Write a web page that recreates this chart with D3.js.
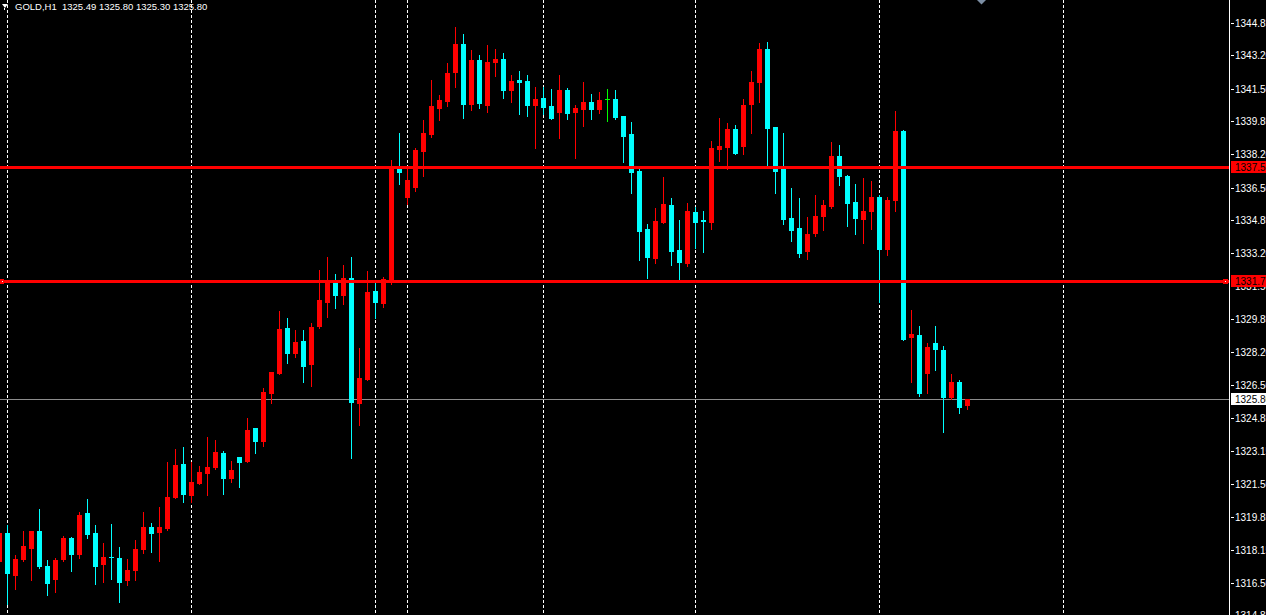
<!DOCTYPE html>
<html>
<head>
<meta charset="utf-8">
<script src="https://cdn.jsdelivr.net/npm/d3@7"></script>
<style>
html,body{margin:0;padding:0;background:#000;overflow:hidden;}
svg{display:block;}
</style>
</head>
<body>
<svg id="chart" width="1266" height="615"></svg>
<script>
// ---- DATA ----
const symbolTitle = "GOLD,H1";
const lastBar = ["1325.49", "1325.80", "1325.30", "1325.80"];
const firstBarIndex = -1;
const opens = [1317.61,1319.01,1316.90,1317.70,1318.25,1319.11,1317.34,1316.70,1317.71,1318.76,1317.96,1320.02,1319.01,1317.46,1317.81,1317.75,1316.65,1317.15,1318.22,1319.32,1319.08,1319.28,1320.82,1322.51,1320.95,1321.56,1322.07,1322.37,1323.06,1321.81,1322.86,1322.67,1324.33,1323.69,1326.12,1327.13,1329.39,1328.14,1328.73,1327.58,1329.51,1330.72,1331.67,1331.08,1331.92,1325.61,1326.82,1331.26,1330.67,1331.87,1337.49,1336.04,1336.55,1338.37,1339.23,1340.55,1340.90,1342.37,1343.77,1340.75,1342.96,1340.68,1342.86,1343.01,1341.44,1341.95,1341.90,1340.68,1341.04,1340.63,1340.33,1341.44,1340.33,1340.48,1340.84,1340.48,1340.97,1340.99,1340.13,1339.22,1337.34,1334.40,1332.94,1334.76,1335.62,1333.34,1332.68,1335.26,1334.86,1334.76,1338.46,1338.56,1339.47,1338.61,1340.73,1341.85,1343.52,1339.57,1337.44,1334.96,1334.46,1333.29,1334.20,1335.06,1335.57,1338.10,1337.09,1335.77,1334.91,1335.32,1336.03,1333.39,1335.87,1339.37,1328.94,1329.04,1327.11,1328.63,1328.28,1325.90,1326.66,1325.49];
const highs = [1319.10,1319.42,1317.90,1319.11,1319.13,1320.23,1317.65,1317.75,1318.86,1318.82,1320.08,1320.73,1319.42,1318.51,1319.47,1318.30,1317.70,1318.66,1320.08,1319.52,1320.33,1322.61,1323.27,1323.37,1322.61,1322.40,1323.87,1323.72,1323.16,1322.66,1322.88,1324.83,1324.35,1326.35,1327.18,1330.25,1329.90,1329.29,1329.29,1329.65,1332.33,1332.99,1332.13,1332.58,1332.99,1328.38,1332.28,1331.67,1331.97,1337.90,1339.27,1337.54,1338.51,1339.92,1341.95,1341.19,1342.81,1344.63,1344.28,1343.47,1343.22,1343.72,1343.52,1343.32,1342.20,1342.40,1342.20,1341.59,1341.59,1341.49,1342.20,1341.54,1340.68,1341.85,1341.24,1341.34,1341.49,1341.44,1340.15,1339.82,1337.49,1334.66,1335.47,1337.04,1335.97,1334.86,1335.72,1335.52,1335.32,1338.86,1340.02,1339.77,1339.67,1340.99,1342.40,1343.82,1343.87,1339.59,1339.27,1336.48,1335.97,1335.01,1336.13,1335.87,1338.81,1338.66,1337.14,1336.68,1336.99,1336.84,1336.13,1336.03,1340.38,1339.40,1330.30,1329.49,1328.63,1329.49,1328.48,1327.06,1326.76,1325.80];
const lows = [1317.55,1315.42,1316.19,1317.61,1316.65,1317.26,1315.89,1316.04,1317.61,1317.10,1317.76,1318.77,1316.45,1316.55,1316.70,1315.53,1316.39,1316.65,1318.02,1318.07,1317.61,1319.18,1320.77,1320.58,1320.58,1321.51,1320.95,1322.27,1321.00,1321.61,1321.36,1322.62,1323.08,1323.43,1325.61,1327.08,1327.63,1327.94,1326.67,1326.47,1329.41,1329.96,1330.42,1330.62,1322.83,1324.50,1326.78,1329.91,1330.47,1331.63,1336.70,1335.69,1336.34,1337.10,1339.08,1339.94,1340.65,1341.61,1340.04,1340.45,1340.53,1340.33,1342.15,1341.04,1340.84,1340.23,1340.13,1338.51,1340.23,1339.98,1339.01,1339.97,1338.00,1339.62,1339.97,1340.28,1339.87,1339.97,1337.80,1336.23,1332.84,1331.92,1332.68,1334.71,1332.58,1331.87,1332.53,1333.44,1333.24,1334.40,1337.85,1337.44,1338.20,1338.20,1339.27,1340.84,1337.59,1336.23,1334.66,1333.80,1332.99,1332.89,1334.05,1334.35,1335.47,1336.63,1334.56,1334.15,1333.70,1334.40,1330.71,1333.09,1335.32,1328.80,1326.66,1325.95,1326.10,1327.27,1324.13,1325.80,1325.09,1325.30];
const closes = [1319.01,1317.00,1317.70,1318.35,1319.11,1317.36,1316.50,1317.65,1318.76,1317.96,1319.92,1318.98,1317.36,1317.80,1317.78,1316.55,1317.14,1318.20,1319.32,1319.03,1319.32,1320.84,1322.46,1321.00,1321.59,1322.10,1322.35,1323.11,1321.81,1322.20,1322.62,1324.23,1323.69,1326.15,1327.16,1329.34,1328.14,1328.68,1327.48,1329.44,1330.81,1331.67,1331.08,1331.92,1325.66,1326.86,1331.21,1330.72,1331.87,1337.54,1337.31,1336.89,1338.40,1339.27,1340.63,1340.94,1342.30,1343.77,1340.75,1342.96,1340.78,1342.86,1343.01,1341.44,1341.90,1341.85,1340.68,1340.99,1340.58,1340.02,1341.44,1340.28,1340.53,1340.84,1340.48,1340.94,1340.97,1340.08,1339.11,1337.31,1334.30,1332.99,1334.81,1335.67,1333.29,1332.73,1335.32,1334.76,1334.83,1338.51,1338.61,1339.47,1338.25,1340.68,1341.85,1343.52,1339.52,1337.34,1334.91,1334.35,1333.19,1334.15,1335.06,1335.62,1338.10,1337.09,1335.72,1334.96,1335.32,1336.03,1333.39,1335.87,1339.37,1328.84,1329.09,1326.10,1328.43,1328.33,1325.90,1326.66,1325.39,1325.80];
const separatorBars = [0, 23, 46, 50, 67, 86, 109, 132];
const levelLines = [1337.52, 1331.76];
const levelLabels = ["1337.52", "1331.76"];
const selectedLevel = 1;
const bidPrice = 1325.80;
const bidLabel = "1325.80";
const tickLabels = ["1344.85","1343.20","1341.50","1339.85","1338.20","1336.50","1334.85","1333.20","1331.50","1329.85","1328.20","1326.50","1324.85","1323.15","1321.50","1319.85","1318.15","1316.50","1314.85"];

// ---- LAYOUT / STYLE ----
const W = 1266, H = 615, axisX = 1229;
const colUp = "#ff0000", colDown = "#00ffff", colDoji = "#00ff00";

const svg = d3.select("#chart");
svg.append("rect").attr("width", W).attr("height", H).attr("fill", "#000");

const x = d3.scaleLinear().domain([0, 1]).range([7, 15]);   // bar index -> pixel column
const y = d3.scaleLinear().domain([1344.85, 1316.50]).range([22.7, 582.7]);

const bars = opens.map((o, i) => ({i: i + firstBarIndex, o, h: highs[i], l: lows[i], c: closes[i]}));

const plot = svg.append("g").attr("shape-rendering", "crispEdges");
// clip
svg.append("clipPath").attr("id", "pc").append("rect").attr("x", 0).attr("y", 0).attr("width", axisX).attr("height", H);
plot.attr("clip-path", "url(#pc)");

// period separators
plot.selectAll("line.sep").data(separatorBars).join("line")
  .attr("class", "sep")
  .attr("x1", d => x(d) + 0.5).attr("x2", d => x(d) + 0.5)
  .attr("y1", 0).attr("y2", H)
  .attr("stroke", "#fff").attr("stroke-width", 1)
  .attr("stroke-dasharray", "3,2");

// bid line
plot.append("line")
  .attr("x1", 0).attr("x2", axisX).attr("y1", Math.round(y(bidPrice)) + 0.5).attr("y2", Math.round(y(bidPrice)) + 0.5)
  .attr("stroke", "#8c8c8c").attr("stroke-width", 1);

const colorOf = d => d.c > d.o ? colUp : (d.c < d.o ? colDown : colDoji);

// wicks
plot.selectAll("rect.wick").data(bars).join("rect")
  .attr("class", "wick")
  .attr("x", d => x(d.i)).attr("width", 1)
  .attr("y", d => Math.round(y(d.h)))
  .attr("height", d => Math.round(y(d.l)) - Math.round(y(d.h)) + 1)
  .attr("fill", colorOf);

// bodies
plot.selectAll("rect.body").data(bars).join("rect")
  .attr("class", "body")
  .attr("x", d => x(d.i) - 2).attr("width", 5)
  .attr("y", d => Math.round(y(Math.max(d.o, d.c))))
  .attr("height", d => Math.max(1, Math.round(y(Math.min(d.o, d.c))) - Math.round(y(Math.max(d.o, d.c))) + 1))
  .attr("fill", colorOf);

// horizontal level lines
plot.selectAll("rect.level").data(levelLines).join("rect")
  .attr("class", "level")
  .attr("x", 0).attr("width", axisX)
  .attr("y", d => Math.round(y(d)) - 1).attr("height", 3)
  .attr("fill", "#ff0000");

// anchor markers of selected line
const sy = Math.round(y(levelLines[selectedLevel]));
[[0, 4], [axisX - 6, 5]].forEach(([mx, mw]) => {
  plot.append("rect").attr("x", mx).attr("y", sy - 2).attr("width", mw).attr("height", 5).attr("fill", "#ff0000");
  plot.append("rect").attr("x", mx + Math.floor(mw / 2)).attr("y", sy).attr("width", 1).attr("height", 1).attr("fill", "#fff");
});

// ---- right price axis ----
const ax = svg.append("g");
ax.append("rect").attr("x", axisX).attr("y", 0).attr("width", 1).attr("height", H)
  .attr("fill", "#fff").attr("shape-rendering", "crispEdges");
const ticks = ax.selectAll("g.tick").data(tickLabels).join("g").attr("class", "tick")
  .attr("transform", d => `translate(0,${Math.round(y(+d))})`);
ticks.append("rect").attr("x", axisX + 2).attr("y", 0).attr("width", 3).attr("height", 1)
  .attr("fill", "#fff").attr("shape-rendering", "crispEdges");
ticks.append("text").attr("x", axisX + 6).attr("y", 4)
  .attr("fill", "#fff").attr("font-family", "Liberation Sans, Arial, sans-serif").attr("font-size", 10)
  .text(d => d);

// price tags
function tag(val, label, bg, fg) {
  const ty = Math.round(y(val));
  ax.append("rect").attr("x", axisX + 2).attr("y", ty - 6).attr("width", W - axisX).attr("height", 12)
    .attr("fill", bg).attr("shape-rendering", "crispEdges");
  ax.append("text").attr("x", axisX + 6).attr("y", ty + 4)
    .attr("fill", fg).attr("font-family", "Liberation Sans, Arial, sans-serif").attr("font-size", 10)
    .text(label);
}
levelLines.forEach((v, i) => tag(v, levelLabels[i], "#ff0000", "#000"));
tag(bidPrice, bidLabel, "#fff", "#000");

// ---- header ----
svg.append("path").attr("d", "M2,4 L8,4 L5,8 Z").attr("fill", "#fff");
svg.append("rect").attr("x", 4).attr("y", 8).attr("width", 1).attr("height", 2).attr("fill", "#fff");
svg.append("text").attr("x", 15).attr("y", 10)
  .attr("fill", "#fff").attr("font-family", "Liberation Sans, Arial, sans-serif").attr("font-size", 9.5)
  .attr("xml:space", "preserve").style("white-space", "pre")
  .text(symbolTitle + "  " + lastBar.join(" "));

// shift marker at top
svg.append("path").attr("d", "M977,0 L986,0 L981.5,4.5 Z").attr("fill", "#7c8ea3");
</script>
</body>
</html>
